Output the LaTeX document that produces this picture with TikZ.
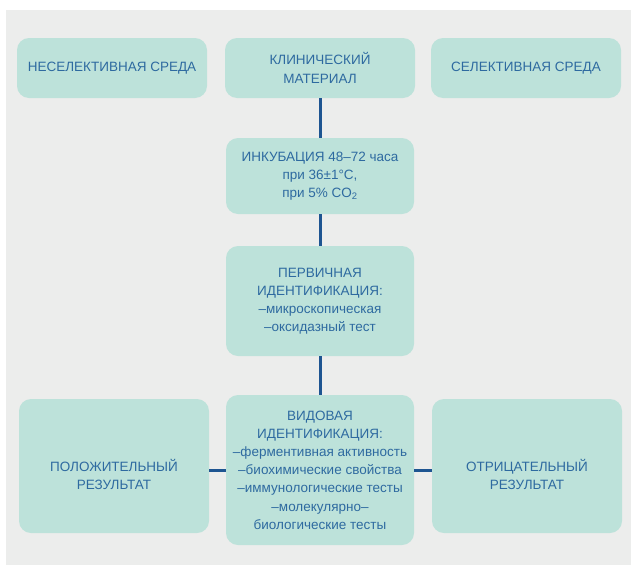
\documentclass[tikz,border=0pt]{standalone}
\usepackage{fontspec}
\setmainfont{Liberation Sans}
\begin{document}
\begin{tikzpicture}[x=1pt,y=-1pt,
  box/.style={fill=boxfill, rounded corners=12pt, align=center, text=txtblue,
    font=\fontsize{13.5}{18.2}\selectfont, inner sep=0pt},
  lbl/.style={align=center, text=txtblue, font=\fontsize{13.5}{18.2}\selectfont, inner sep=0pt},
  conn/.style={draw=lineblue, line width=3pt}]
\definecolor{boxfill}{HTML}{BDE2DA}
\definecolor{txtblue}{HTML}{2E6AA0}
\definecolor{lineblue}{HTML}{1E5591}
\definecolor{bg}{HTML}{ECEDEC}
\useasboundingbox (0,0) rectangle (631,565);
\fill[white] (0,0) rectangle (631,565);
\fill[bg] (6,10) rectangle (631,565);
\node[box, minimum width=190pt, minimum height=60pt] (ns) at (112,68) {НЕСЕЛЕКТИВНАЯ СРЕДА};
\node[box, minimum width=190pt, minimum height=60pt] (km) at (320,68) {КЛИНИЧЕСКИЙ\\МАТЕРИАЛ};
\node[box, minimum width=190pt, minimum height=60pt] (ss) at (526,68) {СЕЛЕКТИВНАЯ СРЕДА};
\node[box, minimum width=188pt, minimum height=76pt] (inc) at (320,176) {ИНКУБАЦИЯ 48–72 часа\\при 36±1°C,\\при 5\% CO\textsubscript{2}};
\node[box, minimum width=188pt, minimum height=110pt] (pi) at (320,301) {ПЕРВИЧНАЯ\\ИДЕНТИФИКАЦИЯ:\\–микроскопическая\\–оксидазный тест};
\node[box, minimum width=188pt, minimum height=150pt] (vi) at (320,470) {ВИДОВАЯ\\ИДЕНТИФИКАЦИЯ:\\–ферментивная активность\\–биохимические свойства\\–иммунологические тесты\\–молекулярно–\\биологические тесты};
\node[box, minimum width=190pt, minimum height=134pt] (pos) at (114,466) {};
\node[lbl] (posT) at ([yshift=-8.5pt]pos.center) {ПОЛОЖИТЕЛЬНЫЙ\\РЕЗУЛЬТАТ};
\node[box, minimum width=190pt, minimum height=134pt] (neg) at (527,466) {};
\node[lbl] (negT) at ([yshift=-8.5pt]neg.center) {ОТРИЦАТЕЛЬНЫЙ\\РЕЗУЛЬТАТ};
\draw[conn] (km.south) -- (inc.north);
\draw[conn] (inc.south) -- (pi.north);
\draw[conn] (pi.south) -- (vi.north);
\draw[conn] (vi.west) -- (vi.west -| pos.east);
\draw[conn] (vi.east) -- (vi.east -| neg.west);
\end{tikzpicture}
\end{document}
